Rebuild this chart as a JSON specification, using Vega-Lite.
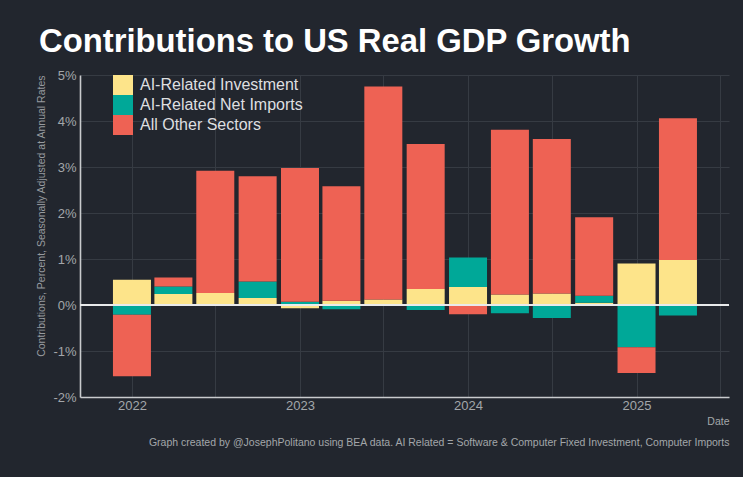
{
  "$schema": "https://vega.github.io/schema/vega-lite/v6.json",
  "autosize": {"type": "none"},
  "width": 649,
  "height": 322,
  "padding": {"left": 80, "top": 75, "right": 14, "bottom": 80},
  "background": "#22262e",
  "config": {
    "font": "Liberation Sans",
    "view": {"stroke": null, "fill": "#22262e"}
  },
  "title": {
    "text": "Contributions to US Real GDP Growth",
    "anchor": "start",
    "frame": "group",
    "dx": -41,
    "offset": -16,
    "baseline": "alphabetic",
    "fontSize": 32.8,
    "fontWeight": "bold",
    "color": "#ffffff"
  },
  "data": {
    "values": [
      {"date": "2022-01-01", "component": "AI-Related Investment", "value": 0.55},
      {"date": "2022-01-01", "component": "AI-Related Net Imports", "value": -0.21},
      {"date": "2022-01-01", "component": "All Other Sectors", "value": -1.34},
      {"date": "2022-04-01", "component": "AI-Related Investment", "value": 0.24},
      {"date": "2022-04-01", "component": "AI-Related Net Imports", "value": 0.16},
      {"date": "2022-04-01", "component": "All Other Sectors", "value": 0.2},
      {"date": "2022-07-01", "component": "AI-Related Investment", "value": 0.26},
      {"date": "2022-07-01", "component": "AI-Related Net Imports", "value": 0.0},
      {"date": "2022-07-01", "component": "All Other Sectors", "value": 2.66},
      {"date": "2022-10-01", "component": "AI-Related Investment", "value": 0.15},
      {"date": "2022-10-01", "component": "AI-Related Net Imports", "value": 0.36},
      {"date": "2022-10-01", "component": "All Other Sectors", "value": 2.29},
      {"date": "2023-01-01", "component": "AI-Related Investment", "value": -0.07},
      {"date": "2023-01-01", "component": "AI-Related Net Imports", "value": 0.07},
      {"date": "2023-01-01", "component": "All Other Sectors", "value": 2.91},
      {"date": "2023-04-01", "component": "AI-Related Investment", "value": 0.09},
      {"date": "2023-04-01", "component": "AI-Related Net Imports", "value": -0.09},
      {"date": "2023-04-01", "component": "All Other Sectors", "value": 2.49},
      {"date": "2023-07-01", "component": "AI-Related Investment", "value": 0.12},
      {"date": "2023-07-01", "component": "AI-Related Net Imports", "value": 0.0},
      {"date": "2023-07-01", "component": "All Other Sectors", "value": 4.63},
      {"date": "2023-10-01", "component": "AI-Related Investment", "value": 0.35},
      {"date": "2023-10-01", "component": "AI-Related Net Imports", "value": -0.11},
      {"date": "2023-10-01", "component": "All Other Sectors", "value": 3.15},
      {"date": "2024-01-01", "component": "AI-Related Investment", "value": 0.39},
      {"date": "2024-01-01", "component": "AI-Related Net Imports", "value": 0.64},
      {"date": "2024-01-01", "component": "All Other Sectors", "value": -0.2},
      {"date": "2024-04-01", "component": "AI-Related Investment", "value": 0.23},
      {"date": "2024-04-01", "component": "AI-Related Net Imports", "value": -0.18},
      {"date": "2024-04-01", "component": "All Other Sectors", "value": 3.58},
      {"date": "2024-07-01", "component": "AI-Related Investment", "value": 0.25},
      {"date": "2024-07-01", "component": "AI-Related Net Imports", "value": -0.28},
      {"date": "2024-07-01", "component": "All Other Sectors", "value": 3.36},
      {"date": "2024-10-01", "component": "AI-Related Investment", "value": 0.05},
      {"date": "2024-10-01", "component": "AI-Related Net Imports", "value": 0.15},
      {"date": "2024-10-01", "component": "All Other Sectors", "value": 1.71},
      {"date": "2025-01-01", "component": "AI-Related Investment", "value": 0.9},
      {"date": "2025-01-01", "component": "AI-Related Net Imports", "value": -0.92},
      {"date": "2025-01-01", "component": "All Other Sectors", "value": -0.56},
      {"date": "2025-04-01", "component": "AI-Related Investment", "value": 0.98},
      {"date": "2025-04-01", "component": "AI-Related Net Imports", "value": -0.23},
      {"date": "2025-04-01", "component": "All Other Sectors", "value": 3.08}
    ],
    "format": {"parse": {"date": "utc:'%Y-%m-%d'"}}
  },
  "layer": [
    {
      "mark": {"type": "bar", "width": 38},
      "encoding": {
        "x": {
          "field": "date",
          "type": "temporal",
          "scale": {
            "type": "utc",
            "domain": [
              {"year": 2021, "month": 9, "date": 21, "utc": true},
              {"year": 2025, "month": 7, "date": 10, "utc": true}
            ]
          },
          "axis": {
            "values": [
              {"year": 2022, "month": 1, "date": 1, "utc": true},
              {"year": 2022, "month": 7, "date": 1, "utc": true},
              {"year": 2023, "month": 1, "date": 1, "utc": true},
              {"year": 2023, "month": 7, "date": 1, "utc": true},
              {"year": 2024, "month": 1, "date": 1, "utc": true},
              {"year": 2024, "month": 7, "date": 1, "utc": true},
              {"year": 2025, "month": 1, "date": 1, "utc": true},
              {"year": 2025, "month": 7, "date": 1, "utc": true}
            ],
            "labelExpr": "utcmonth(datum.value) === 0 ? utcFormat(datum.value, '%Y') : ''",
            "labelFontSize": 13,
            "labelColor": "#a3a6aa",
            "labelPadding": 2,
            "labelFlush": false,
            "labelOverlap": false,
            "ticks": false,
            "grid": true,
            "gridColor": "#363b43",
            "gridWidth": 1,
            "domainColor": "#c9cbce",
            "domainWidth": 1.6,
            "title": ["Date", "Graph created by @JosephPolitano using BEA data. AI Related = Software & Computer Fixed Investment, Computer Imports"],
            "titleAnchor": "end",
            "titleAlign": "right",
            "titleFontSize": 10.5,
            "titleFontWeight": "normal",
            "titleColor": "#a3a6aa",
            "titleLineHeight": 21,
            "titlePadding": 4
          }
        },
        "y": {
          "field": "value",
          "type": "quantitative",
          "stack": "zero",
          "scale": {"domain": [-2, 5], "nice": false, "zero": false},
          "axis": {
            "values": [-2, -1.5, -1, -0.5, 0, 0.5, 1, 1.5, 2, 2.5, 3, 3.5, 4, 4.5, 5],
            "labelExpr": "datum.value % 1 === 0 ? datum.value + '%' : ''",
            "labelFontSize": 13,
            "labelColor": "#a3a6aa",
            "labelPadding": 4,
            "labelFlush": false,
            "labelOverlap": false,
            "ticks": false,
            "grid": true,
            "gridColor": "#363b43",
            "gridWidth": 1,
            "domainColor": "#c9cbce",
            "domainWidth": 1.6,
            "title": "Contributions, Percent, Seasonally Adjusted at Annual Rates",
            "titleAnchor": "end",
            "titleFontSize": 10.5,
            "titleFontWeight": "normal",
            "titleColor": "#979a9f",
            "titlePadding": 6
          }
        },
        "color": {
          "field": "component",
          "type": "nominal",
          "scale": {
            "domain": ["AI-Related Investment", "AI-Related Net Imports", "All Other Sectors"],
            "range": ["#fde48a", "#00a898", "#ee6254"]
          },
          "legend": {
            "title": null,
            "orient": "none",
            "legendX": 33,
            "legendY": 0,
            "padding": 0,
            "symbolType": "square",
            "symbolSize": 400,
            "symbolStrokeWidth": 0,
            "symbolOpacity": 1,
            "rowPadding": 0,
            "labelFontSize": 16,
            "labelLimit": 400,
            "labelColor": "#dedfe0",
            "labelOffset": 7
          }
        },
        "order": {"field": "component", "sort": "ascending"}
      }
    },
    {
      "mark": {"type": "rule", "color": "#e9eaeb", "strokeWidth": 1.8},
      "encoding": {"y": {"datum": 0}}
    }
  ]
}
